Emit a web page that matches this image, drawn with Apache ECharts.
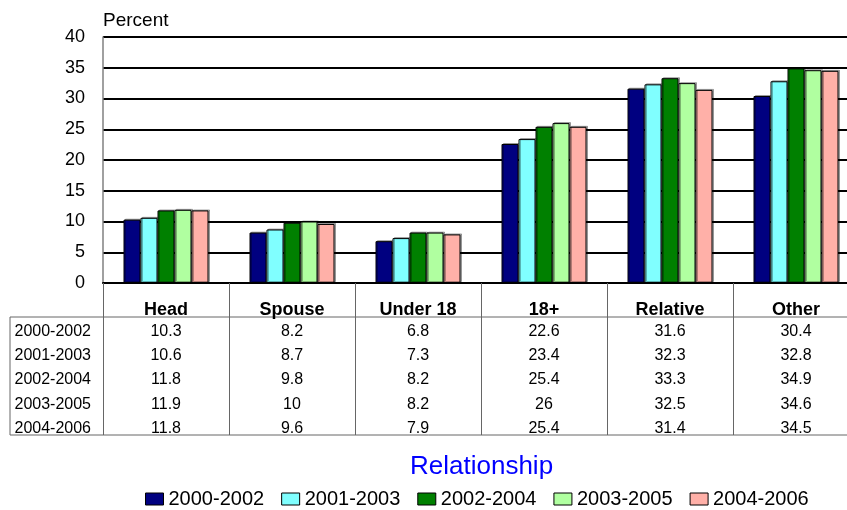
<!DOCTYPE html>
<html>
<head>
<meta charset="utf-8">
<script src="https://cdn.jsdelivr.net/npm/echarts@6/dist/echarts.min.js"></script>
<style>
  html, body { margin: 0; padding: 0; background: #fff; }
  #chart { width: 847px; height: 510px; }
</style>
</head>
<body>
<div id="chart"></div>
<script>
// categories and periods
const categories = ['Head', 'Spouse', 'Under 18', '18+', 'Relative', 'Other']
const periods = ['2000-2002', '2001-2003', '2002-2004', '2003-2005', '2004-2006']

// percent values per period
const p2000_2002 = [10.3, 8.2, 6.8, 22.6, 31.6, 30.4]
const p2001_2003 = [10.6, 8.7, 7.3, 23.4, 32.3, 32.8]
const p2002_2004 = [11.8, 9.8, 8.2, 25.4, 33.3, 34.9]
const p2003_2005 = [11.9, 10, 8.2, 26, 32.5, 34.6]
const p2004_2006 = [11.8, 9.6, 7.9, 25.4, 31.4, 34.5]

const yMin = 0
const yMax = 40
const yStep = 5

const values = [p2000_2002, p2001_2003, p2002_2004, p2003_2005, p2004_2006]
const colors = ['#000080', '#80FFFF', '#008000', '#B0FFA0', '#FFB0A8']
const font = 'Liberation Sans, Arial, sans-serif'

const chart = echarts.init(document.getElementById('chart'))

// one hidden axis per table row, its labels are the row's values
const rowAxes = values.map((vals, i) => ({
  type: 'category',
  data: vals.map(String),
  position: 'bottom',
  offset: 48.5 + 24.25 * i,
  axisLine: { show: false },
  axisTick: { show: false },
  splitLine: { show: false },
  axisLabel: {
    interval: 0,
    margin: 0,
    verticalAlign: 'middle',
    fontFamily: font,
    fontSize: 16,
    color: '#000'
  },
  name: periods[i],
  nameLocation: 'start',
  nameGap: 12,
  nameTextStyle: { fontFamily: font, fontSize: 16, color: '#000', verticalAlign: 'middle' }
}))

const option = {
  animation: false,
  backgroundColor: '#fff',
  // the plot runs past the right edge of the picture, as in the original
  grid: { left: 103, top: 37, width: 756, height: 246, containLabel: false, outerBoundsMode: 'none' },
  title: {
    text: 'Relationship',
    left: 405,
    top: 449,
    textStyle: { fontFamily: font, fontSize: 26, fontWeight: 'normal', color: '#0000FF' }
  },
  legend: {
    left: 145,
    top: 489,
    padding: 0,
    icon: 'rect',
    itemWidth: 18,
    itemHeight: 12,
    itemGap: 17,
    data: periods,
    itemStyle: { borderColor: '#000', borderWidth: 1 },
    textStyle: { fontFamily: font, fontSize: 20, color: '#000' }
  },
  xAxis: [
    {
      type: 'category',
      data: categories,
      position: 'bottom',
      axisLine: { show: true, lineStyle: { color: '#000', width: 2 } },
      axisTick: { show: true, length: 152, interval: 0, lineStyle: { color: '#666', width: 1 } },
      axisLabel: {
        interval: 0,
        margin: 27,
        verticalAlign: 'middle',
        fontFamily: font,
        fontSize: 18,
        fontWeight: 'bold',
        color: '#000'
      }
    }
  ].concat(rowAxes),
  yAxis: {
    type: 'value',
    min: yMin,
    max: yMax,
    interval: yStep,
    name: 'Percent',
    nameLocation: 'end',
    nameGap: 7,
    nameTextStyle: { fontFamily: font, fontSize: 19, color: '#000', align: 'left' },
    axisLine: { show: true, lineStyle: { color: '#808080', width: 1.5 } },
    axisTick: { show: false },
    splitLine: { show: true, lineStyle: { color: '#000', width: 2 } },
    axisLabel: { fontFamily: font, fontSize: 18, color: '#000', margin: 18 }
  },
  // table frame
  graphic: [
    { type: 'line', shape: { x1: 10, y1: 317, x2: 847, y2: 317 }, style: { stroke: '#666', lineWidth: 1 } },
    { type: 'line', shape: { x1: 10, y1: 435, x2: 847, y2: 435 }, style: { stroke: '#666', lineWidth: 1 } },
    { type: 'line', shape: { x1: 10, y1: 317, x2: 10, y2: 435 }, style: { stroke: '#666', lineWidth: 1 } }
  ],
  series: values.map((vals, i) => ({
    name: periods[i],
    type: 'bar',
    data: vals,
    barWidth: 17,
    barGap: '0%',
    itemStyle: {
      color: colors[i],
      borderColor: '#000',
      borderWidth: 1,
      shadowColor: 'rgba(0,0,0,0.3)',
      shadowOffsetX: 1.5,
      shadowOffsetY: -1
    }
  }))
}

chart.setOption(option)
</script>
</body>
</html>
